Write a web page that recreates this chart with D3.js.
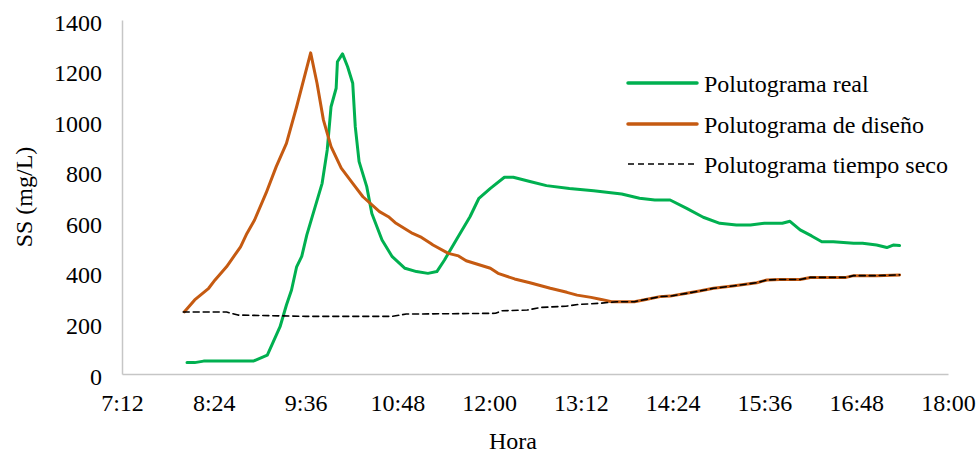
<!DOCTYPE html>
<html>
<head>
<meta charset="utf-8">
<script src="https://cdn.jsdelivr.net/npm/d3@7"></script>
<style>
  html, body { margin: 0; padding: 0; background: #fff; }
  svg { display: block; font-family: "Liberation Serif", "Times New Roman", serif; }
</style>
</head>
<body>
<svg id="chart" width="979" height="454"></svg>
<script>
// ---- Data ----
const xTickLabels = ["7:12", "8:24", "9:36", "10:48", "12:00", "13:12", "14:24", "15:36", "16:48", "18:00"];
const yTickValues = [0, 200, 400, 600, 800, 1000, 1200, 1400];

const seriesNames = ["Polutograma real", "Polutograma de diseño", "Polutograma tiempo seco"];

const realTimes = ["8:03","8:09","8:16","8:55","9:06","9:16","9:21","9:25","9:29","9:33","9:37","9:42","9:49","9:53","9:56","10:00","10:01","10:05","10:09","10:13","10:15","10:18","10:24","10:28","10:36","10:44","10:54","11:03","11:12","11:19","11:25","11:35","11:45","11:52","12:01","12:12","12:19","12:32","12:45","13:03","13:22","13:44","13:58","14:10","14:22","14:35","14:48","15:01","15:14","15:25","15:36","15:50","15:56","16:04","16:13","16:21","16:30","16:46","16:53","17:04","17:12","17:17","17:22"];
const realValues = [45,45,51,51,75,187,273,332,424,465,550,635,754,886,1057,1130,1235,1266,1215,1150,978,840,741,635,530,464,418,405,398,405,451,537,622,695,734,778,778,761,745,734,725,712,695,688,688,655,620,596,589,589,596,596,604,570,546,523,523,517,517,510,500,510,508];

const designTimes = ["8:01","8:09","8:20","8:25","8:34","8:45","8:50","8:56","9:05","9:13","9:21","9:29","9:40","9:45","9:50","9:56","10:04","10:13","10:21","10:34","10:41","10:47","11:00","11:07","11:14","11:16","11:28","11:36","11:42","12:01","12:07","12:20","12:32","12:48","13:01","13:09","13:20","13:28","13:36","13:54","14:03","14:14","14:22","14:35","14:45","14:56","15:11","15:30","15:38","15:48","16:04","16:12","16:40","16:46","17:04","17:22"];
const designValues = [246,293,339,372,424,503,556,609,715,820,912,1057,1270,1150,1005,899,814,754,701,642,622,596,556,540,517,510,477,467,448,418,398,376,361,339,323,312,303,295,286,286,295,306,308,319,328,339,348,361,372,374,374,382,382,389,389,392];

const dryTimes = ["8:00","8:34","8:43","9:36","10:44","10:55","12:05","12:10","12:30","12:40","13:00","13:10","13:28","13:40","13:54","14:03","14:14","14:22","14:35","14:45","14:56","15:11","15:30","15:38","15:48","16:04","16:12","16:40","16:46","17:04","17:22"];
const dryValues = [245,245,233,228,228,237,240,250,253,263,268,275,280,286,286,295,306,308,319,328,339,348,361,372,374,374,382,382,389,389,392];

// ---- Helpers ----
const toMin = s => { const [h, m] = s.split(":").map(Number); return h * 60 + m; };
const zip = (ts, vs) => ts.map((t, i) => ({ t: toMin(t), v: vs[i] }));

const series = [
  { name: seriesNames[0], data: zip(realTimes, realValues), color: "#00B050", width: 3, dash: null },
  { name: seriesNames[1], data: zip(designTimes, designValues), color: "#C55A11", width: 3, dash: null },
  { name: seriesNames[2], data: zip(dryTimes, dryValues), color: "#000000", width: 1.6, dash: "6,4" }
];

// ---- Layout ----
const svg = d3.select("#chart");
const plotL = 122, plotR = 948, plotT = 20, plotB = 374;

const x = d3.scaleLinear().domain([toMin(xTickLabels[0]), toMin(xTickLabels[xTickLabels.length - 1])]).range([plotL, plotR]);
const y = d3.scaleLinear().domain([0, 1400]).range([plotB, plotT]);

const fontSize = 24;

// Y axis
const yAxis = svg.append("g")
  .attr("transform", `translate(${plotL},0)`)
  .call(d3.axisLeft(y).tickValues(yTickValues).tickSize(0).tickPadding(20).tickFormat(d3.format("d")));
yAxis.select(".domain").attr("stroke", "#c6c6c6").attr("stroke-width", 1.5);
yAxis.selectAll("text").attr("font-size", fontSize).attr("fill", "#000")
  .attr("font-family", "Liberation Serif").attr("dy", "10px");

// X axis
const xAxis = svg.append("g")
  .attr("transform", `translate(0,${plotB})`)
  .call(d3.axisBottom(x).tickValues(xTickLabels.map(toMin)).tickSize(0).tickPadding(24)
    .tickFormat((d, i) => xTickLabels[i]));
xAxis.select(".domain").attr("stroke", "#c6c6c6").attr("stroke-width", 1.5);
xAxis.selectAll("text").attr("font-size", fontSize).attr("fill", "#000")
  .attr("font-family", "Liberation Serif").attr("y", 37).attr("dy", 0);

// Axis titles
svg.append("text")
  .attr("x", 513).attr("y", 449)
  .attr("text-anchor", "middle")
  .attr("font-size", fontSize)
  .text("Hora");

svg.append("text")
  .attr("transform", `translate(32,${(plotT + plotB) / 2}) rotate(-90)`)
  .attr("text-anchor", "middle")
  .attr("font-size", fontSize)
  .text("SS (mg/L)");

// Lines
const line = d3.line().x(d => x(d.t)).y(d => y(d.v));
series.forEach(s => {
  svg.append("path")
    .datum(s.data)
    .attr("fill", "none")
    .attr("stroke", s.color)
    .attr("stroke-width", s.width)
    .attr("stroke-linejoin", "round")
    .attr("stroke-linecap", "round")
    .attr("stroke-dasharray", s.dash)
    .attr("d", line);
});

// Legend
const legend = svg.append("g");
const legY = [83, 124, 164];
series.forEach((s, i) => {
  legend.append("line")
    .attr("x1", 628).attr("x2", 697)
    .attr("y1", legY[i]).attr("y2", legY[i])
    .attr("stroke", s.color)
    .attr("stroke-width", s.dash ? 1.6 : 3.5)
    .attr("stroke-linecap", s.dash ? "butt" : "round")
    .attr("stroke-dasharray", s.dash);
  legend.append("text")
    .attr("x", 704).attr("y", legY[i] + 9)
    .attr("font-size", fontSize)
    .text(s.name);
});
</script>
</body>
</html>
